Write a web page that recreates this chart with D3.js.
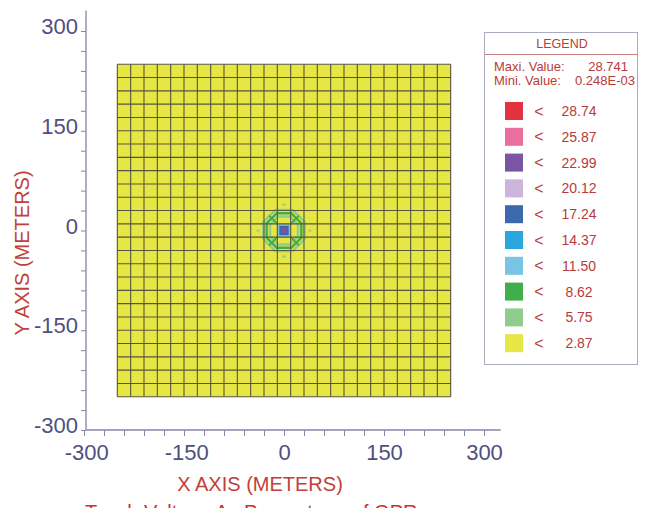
<!DOCTYPE html>
<html>
<head>
<meta charset="utf-8">
<script src="https://cdn.jsdelivr.net/npm/d3@7/dist/d3.min.js"></script>
<style>
  html, body { margin: 0; padding: 0; background: #ffffff; }
  svg { display: block; font-family: "Liberation Sans", Arial, sans-serif; }
</style>
</head>
<body>
<svg id="chart" width="645" height="508"></svg>
<script>
// Touch-voltage contour map over a square grounding grid (percent of GPR)

// axis ticks (meters)
const axisTicks = [-300, -270, -240, -210, -180, -150, -120, -90, -60, -30, 0, 30, 60, 90, 120, 150, 180, 210, 240, 270, 300];
const axisLabels = [-300, -150, 0, 150, 300];

// grounding grid conductors (meters)
const gridLinesX = [-250, -230, -210, -190, -170, -150, -130, -110, -90, -70, -50, -30, -10, 10, 30, 50, 70, 90, 110, 130, 150, 170, 190, 210, 230, 250];
const gridLinesY = [-250, -230, -210, -190, -170, -150, -130, -110, -90, -70, -50, -30, -10, 10, 30, 50, 70, 90, 110, 130, 150, 170, 190, 210, 230, 250];

// legend classes, high to low
const legendLevels = [28.74, 25.87, 22.99, 20.12, 17.24, 14.37, 11.50, 8.62, 5.75, 2.87];
const legendColors = ["#e2323f", "#ea6f9f", "#7a55a3", "#cbb5da", "#3c68ae", "#2aa6df", "#79c3e3", "#41ad4b", "#8ecd8d", "#e6e644"];
const maxValue = "28.741";
const minValue = "0.248E-03";

// contour rings around the central rod (radius in meters, level value)
const ringRadius = [31, 26, 21];
const ringValue = [5.75, 8.62, 5.75];
// central high-voltage squares (half width in meters, level value)
const coreHalf = [9.5, 7, 4];
const coreValue = [11.50, 17.24, 22.99];
// small isolated spots (meters)
const spotX = [0, 0, -39, 39];
const spotY = [39, -39, 0, 0];
const spotValue = [5.75, 5.75, 5.75, 5.75];

const svg = d3.select("#chart");
const x = d3.scaleLinear().domain([-300, 300]).range([84, 484]);
const y = d3.scaleLinear().domain([-300, 300]).range([430, 31]);
const color = d3.scaleOrdinal().domain(legendLevels).range(legendColors);

const tickColor = "#4f5080";
const titleColor = "#c23f3a";
const legendText = "#b73b3b";

// field background (lowest class)
const gMin = d3.min(gridLinesX), gMax = d3.max(gridLinesX);
svg.append("rect")
  .attr("x", x(gMin)).attr("y", y(gMax))
  .attr("width", x(gMax) - x(gMin)).attr("height", y(gMin) - y(gMax))
  .attr("fill", color(2.87));

// contour rings (octagons with flat sides along the axes)
const octagon = r => d3.range(8).map(i => {
  const a = Math.PI / 8 + i * Math.PI / 4;
  const rr = r / Math.cos(Math.PI / 8);
  return [x(rr * Math.cos(a)), y(rr * Math.sin(a))];
});
const contours = svg.append("g");
ringRadius.forEach((r, i) => {
  contours.append("polygon")
    .attr("points", octagon(r).map(p => p.join(",")).join(" "))
    .attr("fill", "none")
    .attr("stroke", color(ringValue[i]))
    .attr("stroke-width", 2.4);
});
// diagonal spokes from the core corners out to the rings
[[1, 1], [1, -1], [-1, 1], [-1, -1]].forEach(([sx, sy]) => {
  contours.append("line")
    .attr("x1", x(sx * coreHalf[0])).attr("y1", y(sy * coreHalf[0]))
    .attr("x2", x(sx * ringRadius[0] * 0.72)).attr("y2", y(sy * ringRadius[0] * 0.72))
    .attr("stroke", color(8.62)).attr("stroke-width", 2);
});
coreHalf.forEach((h, i) => {
  contours.append("rect")
    .attr("x", x(-h)).attr("y", y(h))
    .attr("width", x(h) - x(-h)).attr("height", y(-h) - y(h))
    .attr("fill", color(coreValue[i]));
});
spotX.forEach((sx, i) => {
  contours.append("rect")
    .attr("x", x(sx) - 1.5).attr("y", y(spotY[i]) - 1)
    .attr("width", 3).attr("height", 2)
    .attr("fill", color(spotValue[i]));
});

// grid conductors
const grid = svg.append("g").attr("stroke", "#56563f").attr("stroke-width", 1.1);
gridLinesX.forEach(v => grid.append("line")
  .attr("x1", x(v)).attr("x2", x(v)).attr("y1", y(gMin)).attr("y2", y(gMax)));
gridLinesY.forEach(v => grid.append("line")
  .attr("y1", y(v)).attr("y2", y(v)).attr("x1", x(gMin)).attr("x2", x(gMax)));

// axes
const fmt = d => axisLabels.includes(d) ? String(d) : "";
const axisColor = "#8486ab";

const yAxis = svg.append("g").attr("transform", `translate(${x(-300) + 2},0)`)
  .call(d3.axisLeft(y).tickValues(axisTicks).tickFormat(fmt).tickSize(5).tickSizeOuter(0).tickPadding(3));
yAxis.select(".domain").remove();
yAxis.selectAll(".tick line").attr("stroke", axisColor);
yAxis.selectAll(".tick text").attr("fill", tickColor).attr("font-size", 22).attr("dy", "0.12em");
svg.append("line")
  .attr("x1", x(-300) + 2).attr("x2", x(-300) + 2)
  .attr("y1", y(-300)).attr("y2", y(331))
  .attr("stroke", axisColor).attr("stroke-width", 1.3);

const xAxis = svg.append("g").attr("transform", `translate(0,${y(-300)})`)
  .call(d3.axisBottom(x).tickValues(axisTicks).tickFormat(fmt).tickSize(6).tickSizeOuter(0).tickPadding(8));
xAxis.select(".domain").remove();
xAxis.selectAll(".tick line").attr("stroke", axisColor);
xAxis.selectAll(".tick text").attr("fill", tickColor).attr("font-size", 22)
  .attr("dx", d => d < 0 ? "0.1em" : 0);
svg.append("line")
  .attr("x1", x(-300) + 2).attr("x2", x(325))
  .attr("y1", y(-300)).attr("y2", y(-300))
  .attr("stroke", axisColor).attr("stroke-width", 1.3);

// axis titles
svg.append("text").attr("x", 260).attr("y", 491).attr("text-anchor", "middle")
  .attr("fill", titleColor).attr("font-size", 20).text("X AXIS  (METERS)");
svg.append("text").attr("transform", "translate(29,253) rotate(-90)").attr("text-anchor", "middle")
  .attr("fill", titleColor).attr("font-size", 20).text("Y AXIS  (METERS)");
svg.append("text").attr("x", 85).attr("y", 519)
  .attr("fill", "#d0302a").attr("font-size", 20).text("Touch Voltage As Percentage of GPR");

// legend
const lg = svg.append("g");
lg.append("rect").attr("x", 484.5).attr("y", 32.5).attr("width", 153).attr("height", 332)
  .attr("fill", "#ffffff").attr("stroke", "#a9abc2").attr("stroke-width", 1);
lg.append("line").attr("x1", 484.5).attr("x2", 637.5).attr("y1", 54.5).attr("y2", 54.5)
  .attr("stroke", "#c78080").attr("stroke-width", 1);
lg.append("text").attr("x", 562).attr("y", 48).attr("text-anchor", "middle")
  .attr("fill", legendText).attr("font-size", 12.5).text("LEGEND");
lg.append("text").attr("x", 494).attr("y", 71).attr("fill", legendText).attr("font-size", 13).text("Maxi. Value:");
lg.append("text").attr("x", 628).attr("y", 71).attr("text-anchor", "end").attr("fill", legendText).attr("font-size", 13).text(maxValue);
lg.append("text").attr("x", 494).attr("y", 85).attr("fill", legendText).attr("font-size", 13).text("Mini. Value:");
lg.append("text").attr("x", 635).attr("y", 85).attr("text-anchor", "end").attr("fill", legendText).attr("font-size", 13).text(minValue);

const rows = lg.selectAll("g.row").data(legendLevels).join("g").attr("class", "row")
  .attr("transform", (d, i) => `translate(0,${102 + i * 25.8})`);
rows.append("rect").attr("x", 505).attr("y", 0).attr("width", 18).attr("height", 18)
  .attr("fill", d => color(d));
rows.append("text").attr("x", 539).attr("y", 14.5).attr("text-anchor", "middle")
  .attr("fill", legendText).attr("font-size", 16).text("<");
rows.append("text").attr("x", 579).attr("y", 14).attr("text-anchor", "middle")
  .attr("fill", legendText).attr("font-size", 14).text(d => d.toFixed(2));
</script>
</body>
</html>
